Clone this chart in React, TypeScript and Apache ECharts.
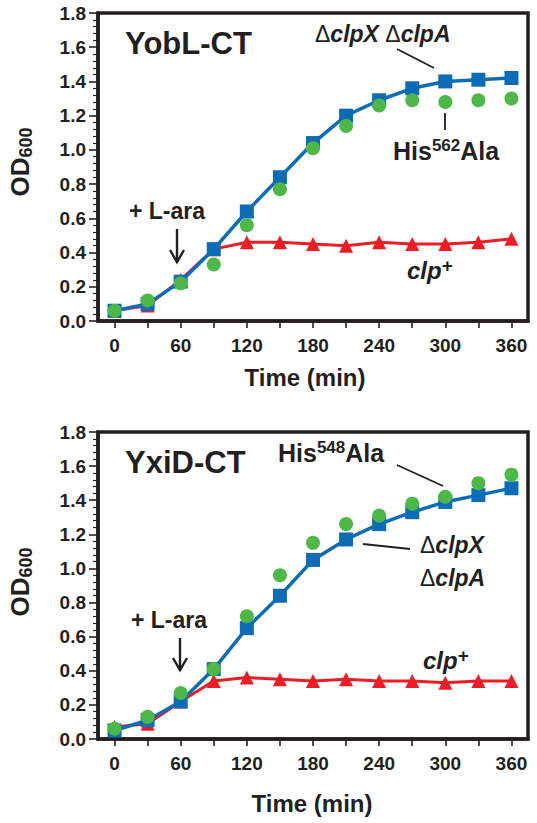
import React, { useEffect, useRef } from 'react';
import * as echarts from 'echarts';

const times = [0, 30, 60, 90, 120, 150, 180, 210, 240, 270, 300, 330, 360];
const yoblClpXA = [0.06, 0.1, 0.23, 0.42, 0.64, 0.84, 1.04, 1.2, 1.29, 1.36, 1.4, 1.41, 1.42];
const yoblHis = [0.06, 0.12, 0.22, 0.33, 0.56, 0.77, 1.01, 1.14, 1.26, 1.29, 1.28, 1.29, 1.3];
const yoblClp = [0.06, 0.09, 0.24, 0.42, 0.46, 0.46, 0.45, 0.44, 0.46, 0.45, 0.45, 0.46, 0.48];
const yxidClpXA = [0.05, 0.11, 0.22, 0.41, 0.65, 0.84, 1.05, 1.17, 1.26, 1.33, 1.39, 1.43, 1.47];
const yxidHis = [0.06, 0.13, 0.27, 0.41, 0.72, 0.96, 1.15, 1.26, 1.31, 1.38, 1.42, 1.5, 1.55];
const yxidClp = [0.07, 0.09, 0.22, 0.34, 0.36, 0.35, 0.34, 0.35, 0.34, 0.34, 0.33, 0.34, 0.34];
const xTickValues = [0, 30, 60, 90, 120, 150, 180, 210, 240, 270, 300, 330, 360];
const xLabelValues = [0, 60, 120, 180, 240, 300, 360];

const INK = '#231f20';
const BLUE = '#0d6cb5';
const GREEN = '#4db848';
const RED = '#ee1d25';
const FONT = '"Liberation Sans", Arial, Helvetica, sans-serif';

const pair = (arr: number[]) => times.map((t, i) => [t, arr[i]]);

function txt(x: number, y: number, text: string, fontSize: number, extra: any = {}) {
  return {
    type: 'text',
    x,
    y,
    silent: true,
    style: {
      text,
      fill: INK,
      fontSize,
      fontWeight: 'bold',
      fontFamily: FONT,
      align: 'left',
      verticalAlign: 'middle',
      ...extra,
    },
  };
}

const deltaRich = {
  d: { fontSize: 23, fontWeight: 'normal', fontFamily: FONT, fill: INK, lineHeight: 28 },
  t: { fontSize: 23, fontWeight: 'bold', fontStyle: 'italic', fontFamily: FONT, fill: INK, lineHeight: 28 },
};
const supRich = (size: number) => ({
  a: { fontSize: size, fontWeight: 'bold', fontFamily: FONT, fill: INK, lineHeight: 28 },
  b: { fontSize: 17, fontWeight: 'bold', fontFamily: FONT, fill: INK, lineHeight: 16, verticalAlign: 'top' },
});
const clpRich = {
  a: { fontSize: 24, fontWeight: 'bold', fontStyle: 'italic', fontFamily: FONT, fill: INK, lineHeight: 28 },
  b: { fontSize: 19, fontWeight: 'bold', fontFamily: FONT, fill: INK, lineHeight: 16, verticalAlign: 'top' },
};
const odRich = {
  a: { fontSize: 26, fontWeight: 'bold', fontFamily: FONT, fill: INK, lineHeight: 30 },
  b: { fontSize: 18, fontWeight: 'bold', fontFamily: FONT, fill: INK, lineHeight: 14, verticalAlign: 'bottom' },
};

function lineEl(x1: number, y1: number, x2: number, y2: number, w = 1.8) {
  return { type: 'line', silent: true, shape: { x1, y1, x2, y2 }, style: { stroke: INK, lineWidth: w } };
}
function arrow(x: number, y1: number, y2: number) {
  return [
    lineEl(x, y1, x, y2, 2.4),
    {
      type: 'polyline',
      silent: true,
      shape: { points: [[x - 7, y2 - 12], [x, y2], [x + 7, y2 - 12]] },
      style: { stroke: INK, lineWidth: 2.4, fill: null },
    },
  ];
}

export default function App() {
  const ref = useRef<HTMLDivElement>(null);
  useEffect(() => {
    if (!ref.current) return;
    const chart = echarts.init(ref.current, null, { renderer: 'svg' });
    const grids = [
      { left: 98, top: 13, width: 430, height: 308 },
      { left: 98, top: 432, width: 430, height: 307 },
    ];
    const xAxes = grids.map((_, i) => ({
      type: 'value',
      gridIndex: i,
      min: -15,
      max: 375,
      splitLine: { show: false },
      axisLine: { show: true, onZero: false, lineStyle: { color: INK, width: 3.5 } },
      axisTick: { show: true, customValues: xTickValues, length: 7, lineStyle: { color: INK, width: 1.6 } },
      axisLabel: {
        customValues: xLabelValues,
        fontSize: 19,
        fontWeight: 'bold',
        fontFamily: FONT,
        color: INK,
        margin: 15,
      },
    }));
    const yAxes = grids.map((_, i) => ({
      type: 'value',
      gridIndex: i,
      min: 0,
      max: 1.8,
      interval: 0.2,
      splitLine: { show: false },
      axisLine: { show: true, onZero: false, lineStyle: { color: INK, width: 3.5 } },
      axisTick: { show: true, length: 9, lineStyle: { color: INK, width: 1.6 } },
      minorTick: { show: true, splitNumber: 5, length: 5, lineStyle: { color: INK, width: 1.2 } },
      minorSplitLine: { show: false },
      axisLabel: {
        formatter: (v: number) => v.toFixed(1),
        fontSize: 19,
        fontWeight: 'bold',
        fontFamily: FONT,
        color: INK,
        margin: 12,
      },
    }));
    const mkSeries = (i: number, clp: number[], clpXA: number[], his: number[]) => [
      {
        type: 'line',
        xAxisIndex: i,
        yAxisIndex: i,
        data: pair(clp),
        symbol: 'triangle',
        symbolSize: 14,
        lineStyle: { color: RED, width: 3 },
        itemStyle: { color: RED },
        z: 2,
      },
      {
        type: 'line',
        xAxisIndex: i,
        yAxisIndex: i,
        data: pair(clpXA),
        symbol: 'rect',
        symbolSize: 14,
        lineStyle: { color: BLUE, width: 3.5 },
        itemStyle: { color: BLUE },
        z: 3,
      },
      {
        type: 'scatter',
        xAxisIndex: i,
        yAxisIndex: i,
        data: pair(his),
        symbol: 'circle',
        symbolSize: 14,
        itemStyle: { color: GREEN, opacity: 1 },
        z: 4,
      },
    ];
    const graphic: any[] = [
      // top panel
      txt(125, 43, 'YobL-CT', 31),
      txt(315, 34, '{d|\u0394}{t|clpX} {d|\u0394}{t|clpA}', 23, { rich: deltaRich }),
      lineEl(397, 49, 434, 68),
      lineEl(445, 113, 445, 130),
      txt(393, 151, '{a|His}{b|562}{a|Ala}', 25, { rich: supRich(25) }),
      txt(407, 270, '{a|clp}{b|+}', 24, { rich: clpRich }),
      txt(129, 211, '+ L-ara', 23),
      ...arrow(177, 229, 262),
      txt(305, 377, 'Time (min)', 24, { align: 'center' }),
      {
        type: 'text',
        x: 20,
        y: 162,
        rotation: Math.PI / 2,
        silent: true,
        style: { text: '{a|OD}{b|600}', rich: odRich, align: 'center', verticalAlign: 'middle', fill: INK },
      },
      // bottom panel
      txt(125, 462, 'YxiD-CT', 31),
      txt(278, 453, '{a|His}{b|548}{a|Ala}', 25, { rich: supRich(25) }),
      lineEl(397, 465, 443, 486),
      txt(420, 545, '{d|\u0394}{t|clpX}', 23, { rich: deltaRich }),
      txt(420, 578, '{d|\u0394}{t|clpA}', 23, { rich: deltaRich }),
      lineEl(363, 544, 410, 549),
      txt(423, 660, '{a|clp}{b|+}', 24, { rich: clpRich }),
      txt(131, 620, '+ L-ara', 23),
      ...arrow(180, 638, 670),
      txt(312, 803, 'Time (min)', 24, { align: 'center' }),
      {
        type: 'text',
        x: 20,
        y: 582,
        rotation: Math.PI / 2,
        silent: true,
        style: { text: '{a|OD}{b|600}', rich: odRich, align: 'center', verticalAlign: 'middle', fill: INK },
      },
    ];
    chart.setOption({
      animation: false,
      backgroundColor: '#ffffff',
      grid: grids.map((g) => ({ ...g, show: true, borderColor: INK, borderWidth: 3.5, backgroundColor: 'transparent' })),
      xAxis: xAxes,
      yAxis: yAxes,
      series: [...mkSeries(0, yoblClp, yoblClpXA, yoblHis), ...mkSeries(1, yxidClp, yxidClpXA, yxidHis)],
      graphic,
    });
    return () => chart.dispose();
  }, []);
  return <div ref={ref} style={{ position: 'absolute', left: 0, top: 0, width: 537, height: 823 }} />;
}
